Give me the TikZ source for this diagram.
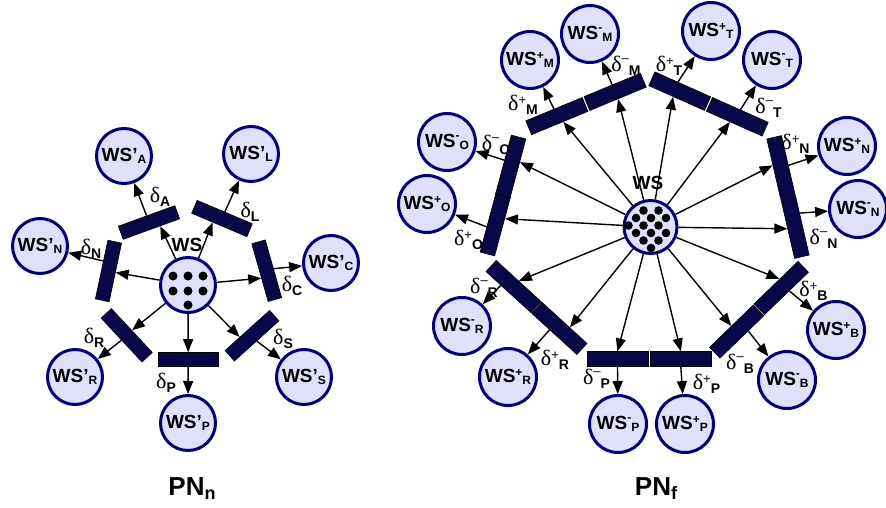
\documentclass[tikz,border=0pt]{standalone}
\usepackage{fontspec}
\setmainfont{Liberation Sans}
\newfontfamily\dfont{Liberation Serif}
\usetikzlibrary{arrows.meta,calc}
\definecolor{placefill}{RGB}{224,224,250}
\definecolor{placedraw}{RGB}{0,0,128}
\definecolor{transfill}{RGB}{8,8,72}
\newcommand{\wsfont}{\fontsize{19}{20}\selectfont\bfseries}
\newcommand{\smallsub}[1]{\raisebox{-1.5pt}{\fontsize{12}{12}\selectfont #1}}
\newcommand{\wsq}[1]{{\wsfont WS’\smallsub{#1}}}
\newcommand{\wspl}[1]{{\wsfont WS\raisebox{6pt}{\fontsize{12}{12}\selectfont +}\smallsub{#1}}}
\newcommand{\wsmi}[1]{{\wsfont WS\raisebox{8pt}{\fontsize{12}{12}\selectfont -}\smallsub{#1}}}
\newcommand{\dlt}{{\dfont\fontsize{22}{22}\selectfont δ}}
\newcommand{\subl}[1]{\raisebox{-4pt}{\fontsize{14}{15}\selectfont\bfseries #1}}
\newcommand{\dl}[1]{\dlt\subl{#1}}
\newcommand{\dlp}[1]{\dlt\raisebox{6pt}{\fontsize{13}{14}\selectfont +}\subl{#1}}
\newcommand{\dlm}[1]{\dlt\raisebox{9pt}{\fontsize{13}{14}\selectfont –}\subl{#1}}
\newcommand{\pnt}[1]{{\fontsize{26}{28}\selectfont\bfseries PN\raisebox{-4pt}{\fontsize{18}{20}\selectfont #1}}}
\begin{document}
\begin{tikzpicture}[x=1pt,y=-1pt,
  place/.style={circle,draw=placedraw,fill=placefill,line width=3pt,minimum size=55pt,inner sep=0pt},
  rplace/.style={place,minimum size=57pt},
  trans/.style={rectangle,draw=black,line width=0.6pt,fill=transfill,minimum width=60pt,minimum height=14pt,inner sep=0pt},
  rtrans/.style={trans,minimum width=61pt,minimum height=15pt},
  arr/.style={-{Triangle[length=13pt,width=10pt]},line width=1.4pt},
  lbl/.style={inner sep=0pt}
]
\useasboundingbox (0,0) rectangle (886,508);

% ---------------- left net PN_n ----------------
\node[place] (ws) at (188,285) {};
\foreach \dx/\dy in {-15/-9,0/-9,15/-9,-15/6,0/6,15/6,0/20}
  \fill (188+\dx,285+\dy) circle[radius=4.5pt];
\node[lbl,font=\wsfont] (wsl) at (187,245) {WS};

\node[trans,rotate=20]    (tA) at (149,222.5) {};
\node[trans,rotate=-23]   (tL) at (222,218.5) {};
\node[trans,rotate=78]    (tN) at (108.5,271) {};
\node[trans,rotate=105.8] (tC) at (266.7,270.7) {};
\node[trans,rotate=-47]   (tR) at (126.7,335.3) {};
\node[trans]              (tP) at (188.2,359.5) {};
\node[trans,rotate=42]    (tS) at (252,335.7) {};

\node[place] (pA) at (124,156) {\wsq{A}};
\node[place] (pL) at (251,154) {\wsq{L}};
\node[place] (pN) at (40,246) {\wsq{N}};
\node[place] (pC) at (331,263) {\wsq{C}};
\node[place] (pR) at (75,377) {\wsq{R}};
\node[place] (pP) at (188,423) {\wsq{P}};
\node[place] (pS) at (304,377) {\wsq{S}};

\draw[arr] (ws) -- (tA.-38);  \draw[arr] (tA.north) -- (pA);
\draw[arr] (ws) -- (tL.-134); \draw[arr] (tL.north) -- (pL);
\draw[arr] (ws) -- (tN.south); \draw[arr] (tN.40) -- (pN);
\draw[arr] (ws) -- (tC.128);  \draw[arr] (tC.south) -- (pC);
\draw[arr] (ws) -- (tR.north); \draw[arr] (tR.south) -- (pR);
\draw[arr] (ws) -- (tP.north); \draw[arr] (tP.south) -- (pP);
\draw[arr] (ws) -- (tS.144);  \draw[arr] (tS.south) -- (pS);

\node[lbl] (dA) at (160,197) {\dl{A}};
\node[lbl] (dL) at (250,212) {\dl{L}};
\node[lbl] (dN) at (91,249) {\dl{N}};
\node[lbl] (dC) at (292,286) {\dl{C}};
\node[lbl] (dR) at (94,337.5) {\dl{R}};
\node[lbl] (dP) at (166,382.5) {\dl{P}};
\node[lbl] (dS) at (283,339) {\dl{S}};

\node[lbl] (titn) at (192,489) {\pnt{n}};

% ---------------- right net PN_f ----------------
\node[place,minimum size=53pt] (wsr) at (650.5,227) {};
\foreach \dx/\dy in {-7/-16.5,8/-16.5,-14.5/-9,0.5/-9,15.5/-9,-22/-1.5,-7/-1.5,8/-1.5,-14.5/6,0.5/6,15.5/6,-7/13.5,8/13.5,0.5/21}
  \fill (650.5+\dx,227+\dy) circle[radius=4.3pt];
\node[lbl,font=\wsfont] (wsrl) at (648,183) {WS};

\node[rtrans,rotate=22.5] (tMp) at (556.9,116.1) {};
\node[rtrans,rotate=22.5] (tMm) at (615.1,91.9) {};
\node[rtrans,rotate=-24]  (tTp) at (679.7,91.2) {};
\node[rtrans,rotate=-24]  (tTm) at (737.3,116.8) {};
\node[rtrans,rotate=-77]  (tNp) at (781,167) {};
\node[rtrans,rotate=-77]  (tNm) at (795,227) {};
\node[rtrans,rotate=44]   (tBp) at (781.3,288) {};
\node[rtrans,rotate=44]   (tBm) at (736.7,331.5) {};
\node[rtrans]             (tPm) at (617.5,359.2) {};
\node[rtrans]             (tPp) at (680.8,359.2) {};
\node[rtrans,rotate=-42.4] (tRm) at (513.6,286.6) {};
\node[rtrans,rotate=-42.4] (tRp) at (559.4,328.4) {};
\node[rtrans,rotate=75]   (tOp) at (495.3,224.5) {};
\node[rtrans,rotate=75]   (tOm) at (510.7,166.5) {};

\node[rplace] (pMp) at (530,60) {\wspl{M}};
\node[rplace] (pMm) at (590,34) {\wsmi{M}};
\node[rplace] (pTp) at (711,31) {\wspl{T}};
\node[rplace] (pTm) at (772,60) {\wsmi{T}};
\node[rplace] (pNp) at (847,146) {\wspl{N}};
\node[rplace] (pNm) at (858,209) {\wsmi{N}};
\node[rplace] (pBp) at (836,330) {\wspl{B}};
\node[rplace] (pBm) at (787,380) {\wsmi{B}};
\node[rplace] (pPp) at (685,424) {\wspl{P}};
\node[rplace] (pPm) at (618,424) {\wsmi{P}};
\node[rplace] (pRp) at (508,377) {\wspl{R}};
\node[rplace] (pRm) at (462,326) {\wsmi{R}};
\node[rplace] (pOp) at (427,204) {\wspl{O}};
\node[rplace] (pOm) at (447,142) {\wsmi{O}};

\draw[arr] (wsr) -- (tMp.-64);  \draw[arr] (tMp.north) -- (pMp);
\draw[arr] (wsr) -- (tMm.south); \draw[arr] (tMm.north) -- (pMm);
\draw[arr] (wsr) -- (tTp.-116); \draw[arr] (tTp.124) -- (pTp);
\draw[arr] (wsr) -- (tTm.-121); \draw[arr] (tTm.north) -- (pTm);
\draw[arr] (wsr) -- (tNp.-114); \draw[arr] (tNp.north) -- (pNp);
\draw[arr] (wsr) -- (tNm.south); \draw[arr] (tNm.148) -- (pNm);
\draw[arr] (wsr) -- (tBp.58);   \draw[arr] (tBp.-64) -- (pBp);
\draw[arr] (wsr) -- (tBm.north); \draw[arr] (tBm.-42) -- (pBm);
\draw[arr] (wsr) -- (tPm.north); \draw[arr] (tPm.south) -- (pPm);
\draw[arr] (wsr) -- (tPp.north); \draw[arr] (tPp.south) -- (pPp);
\draw[arr] (wsr) -- (tRm.north); \draw[arr] (tRm.-143) -- (pRm);
\draw[arr] (wsr) -- (tRp.48);   \draw[arr] (tRp.-129) -- (pRp);
\draw[arr] (wsr) -- (tOp.-44);  \draw[arr] (tOp.120) -- (pOp);
\draw[arr] (wsr) -- (tOm.-50);  \draw[arr] (tOm.60) -- (pOm);

\node[lbl] (dMp) at (523,105) {\dlp{M}};
\node[lbl] (dMm) at (626,66) {\dlm{M}};
\node[lbl] (dTp) at (669,66) {\dlp{T}};
\node[lbl] (dTm) at (768.5,107.5) {\dlm{T}};
\node[lbl] (dNp) at (795.5,144) {\dlp{N}};
\node[lbl] (dNm) at (823.5,239) {\dlm{N}};
\node[lbl] (dBp) at (813.5,291) {\dlp{B}};
\node[lbl] (dBm) at (740,364) {\dlm{B}};
\node[lbl] (dPp) at (706.5,384) {\dlp{P}};
\node[lbl] (dPm) at (596.5,379) {\dlm{P}};
\node[lbl] (dRp) at (555,360) {\dlp{R}};
\node[lbl] (dRm) at (484,287.5) {\dlm{R}};
\node[lbl] (dOp) at (468.5,240) {\dlp{O}};
\node[lbl] (dOm) at (496,145) {\dlm{O}};

\node[lbl] (titf) at (656,489) {\pnt{f}};
\end{tikzpicture}
\end{document}
